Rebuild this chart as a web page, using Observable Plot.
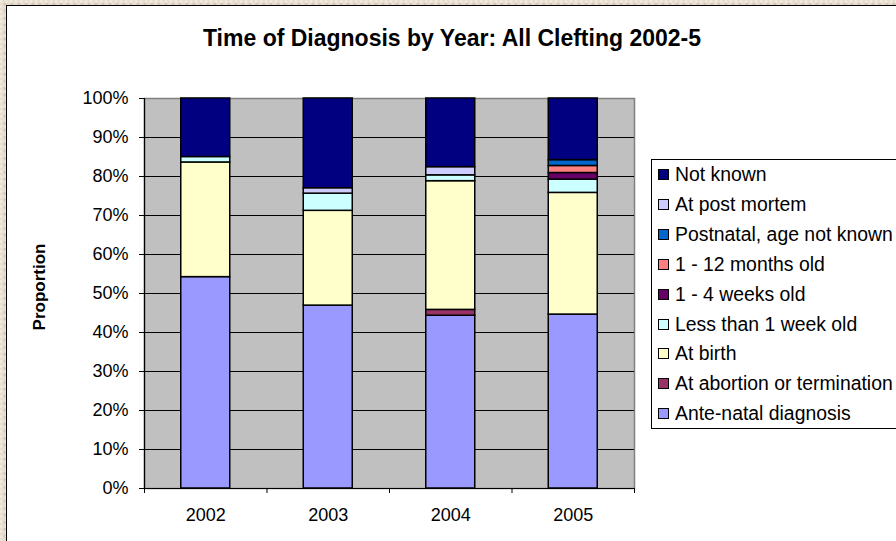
<!DOCTYPE html>
<html><head><meta charset="utf-8">
<script src="https://cdn.jsdelivr.net/npm/d3@7"></script>
<script src="https://cdn.jsdelivr.net/npm/@observablehq/plot@0.6"></script>
<style>
body{margin:0;}
#wrap{position:relative;width:896px;height:541px;overflow:hidden;background:#e8decf;
  background-image:radial-gradient(circle at 20% 30%, rgba(255,255,255,0.35) 0 1px, transparent 2px),radial-gradient(circle at 70% 60%, rgba(150,130,100,0.25) 0 1px, transparent 2px);
  background-size:5px 5px,7px 7px;font-family:"Liberation Sans",Arial,sans-serif;color:#000;}
#panel{position:absolute;left:6px;top:5px;width:1000px;height:1000px;background:#fff;border-left:1.5px solid #000;border-top:1.5px solid #000;}
#chart{position:absolute;left:0;top:0;}
#title{position:absolute;left:452px;top:27px;transform:translateX(-50%);font-size:23px;line-height:23px;font-weight:bold;white-space:nowrap;}
#ylab{position:absolute;left:38.5px;top:286.5px;transform:translate(-50%,-50%) rotate(-90deg);font-size:17px;line-height:17px;font-weight:bold;white-space:nowrap;}
#legend{position:absolute;left:651px;top:159px;width:300px;border:1.5px solid #000;background:#fff;padding:0;}
.row{height:29.84px;display:flex;align-items:center;font-size:19.4px;white-space:nowrap;}
.sw{width:9px;height:9px;border:1px solid #000;margin-left:6px;margin-right:6px;flex:none;}
</style></head><body>
<div id="wrap"><div id="panel"></div><div id="chart"></div>
<div id="title">Time of Diagnosis by Year: All Clefting 2002-5</div>
<div id="ylab">Proportion</div>
<div id="legend"></div></div>
<script>
const years = ["2002", "2003", "2004", "2005"];
const categories = ["Ante-natal diagnosis", "At abortion or termination", "At birth", "Less than 1 week old", "1 - 4 weeks old", "1 - 12 months old", "Postnatal, age not known", "At post mortem", "Not known"];
const colors = ["#9999ff", "#993366", "#ffffcc", "#ccffff", "#660066", "#ff8080", "#0066cc", "#ccccff", "#000080"];
// percentages per category, one value per year
const anteNatal    = [54.2, 46.9, 44.3, 44.6];
const atAbortion   = [0, 0, 1.5, 0];
const atBirth      = [29.4, 24.3, 33.0, 31.2];
const lessThan1Wk  = [1.4, 4.4, 1.5, 3.4];
const oneTo4Wks    = [0, 0, 0, 1.7];
const oneTo12Mths  = [0, 0, 0, 1.8];
const postnatalNK  = [0, 0, 0, 1.5];
const postMortem   = [0, 1.4, 2.1, 0];
const notKnown     = [15.0, 23.0, 17.6, 15.8];
const yTicks = [0, 0.1, 0.2, 0.3, 0.4, 0.5, 0.6, 0.7, 0.8, 0.9, 1];
const gridTicks = [0.1, 0.2, 0.3, 0.4, 0.5, 0.6, 0.7, 0.8, 0.9];

const series = [anteNatal, atAbortion, atBirth, lessThan1Wk, oneTo4Wks, oneTo12Mths, postnatalNK, postMortem, notKnown];
const table = categories.flatMap((c, i) => years.map((y, j) => ({year: y, cat: c, value: series[i][j] / 100}))).filter(d => d.value > 0);

const step = (896 - 144 - 262) / 4;
const chart = Plot.plot({
  width: 896, height: 541,
  marginLeft: 144, marginRight: 262, marginTop: 98, marginBottom: 53,
  style: {background: "transparent", fontFamily: "'Liberation Sans', Arial, sans-serif", fontSize: "18px", color: "#000", overflow: "visible"},
  x: {domain: years, paddingInner: 0.6, paddingOuter: 0.3, round: false, label: null},
  y: {domain: [0, 1], label: null},
  color: {domain: categories, range: colors},
  marks: [
    Plot.frame({fill: "#c0c0c0", stroke: "#808080", strokeWidth: 1.5}),
    Plot.gridY(gridTicks, {stroke: "#000", strokeOpacity: 1, strokeWidth: 1.2}),
    Plot.barY(table, {x: "year", y: "value", fill: "cat", stroke: "#000", strokeWidth: 1.5}),
    Plot.frame({anchor: "left", stroke: "#000", strokeWidth: 1.2}),
    Plot.ruleY([0], {stroke: "#000", strokeWidth: 1.2}),
    Plot.axisY(yTicks, {tickFormat: d3.format(".0%"), tickSize: 5, tickPadding: 11, stroke: "#000", fontSize: 18, label: null}),
    Plot.axisX({tickSize: 0, tickPadding: 20, fontSize: 18, label: null}),
    Plot.axisX(years, {tickSize: 5, dx: -step / 2, tickFormat: () => "", stroke: "#000", label: null}),
    Plot.axisX(["2005"], {tickSize: 5, dx: step / 2, tickFormat: () => "", stroke: "#000", label: null})
  ]
});
document.getElementById("chart").appendChild(chart);

const legend = document.getElementById("legend");
categories.map((c, i) => ({c, col: colors[i]})).reverse().forEach(({c, col}) => {
  const row = document.createElement("div");
  row.className = "row";
  const sw = document.createElement("span");
  sw.className = "sw";
  sw.style.background = col;
  row.appendChild(sw);
  row.appendChild(document.createTextNode(c));
  legend.appendChild(row);
});
</script>
</body></html>
